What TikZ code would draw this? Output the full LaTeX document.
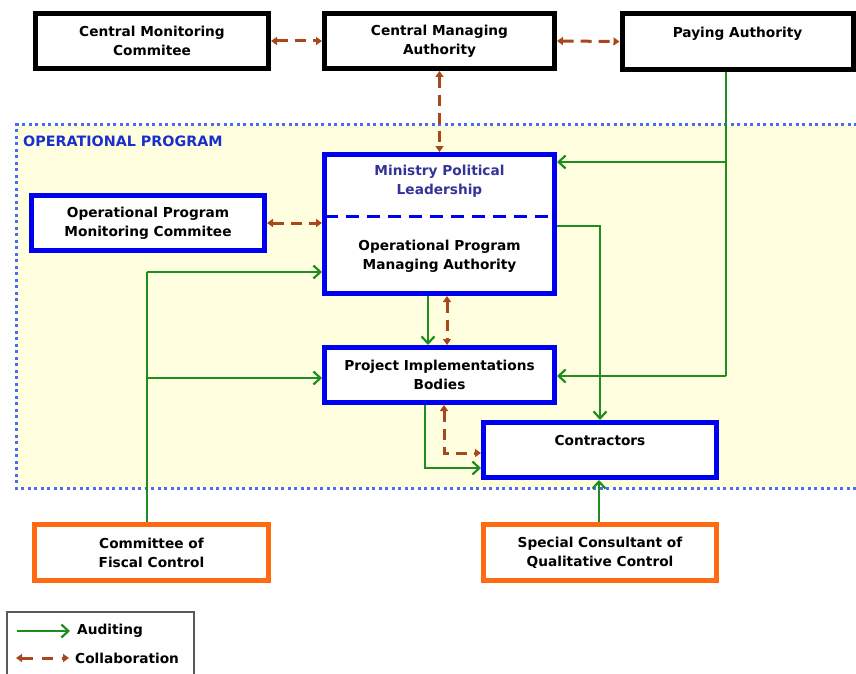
\documentclass[tikz,border=0pt]{standalone}
\usepackage{fontspec}
\setmainfont{DejaVu Sans}
\usetikzlibrary{arrows.meta}
\definecolor{audgreen}{HTML}{1E8C1E}
\definecolor{colbrown}{HTML}{A8461C}
\definecolor{boxblue}{HTML}{0000F0}
\definecolor{boxorange}{HTML}{FF6A10}
\definecolor{dotblue}{HTML}{4A6CF0}
\definecolor{opfill}{HTML}{FFFFE0}
\definecolor{optext}{HTML}{1A2ECC}
\definecolor{mintext}{HTML}{333399}
\tikzset{
  basebox/.style={draw, line width=5pt, fill=white, align=center,
    font=\fontsize{13.7}{19}\selectfont\bfseries, inner sep=0pt},
  blackbox/.style={basebox, draw=black},
  bluebox/.style={basebox, draw=boxblue},
  orangebox/.style={basebox, draw=boxorange},
  txt/.style={font=\fontsize{13.7}{19}\selectfont\bfseries, align=center, inner sep=0pt},
  audit/.style={draw=audgreen, line width=2pt,
    -{Straight Barb[length=7pt,width=13pt,line width=2.2pt]}},
  collab/.style={draw=colbrown, line width=3pt, dash pattern=on 11pt off 7pt,
    {Triangle[length=6pt,width=8pt]}-{Triangle[length=6pt,width=8pt]}},
  plain/.style={draw=audgreen, line width=2pt},
}
\begin{document}
\begin{tikzpicture}[x=1pt,y=-1pt]
\useasboundingbox (0,0) rectangle (856,674);
% operational program region
\path[fill=opfill] (16,125) rectangle (870,488);
\draw[dotblue, line width=3pt, dash pattern=on 3pt off 3.5pt] (870,125) -- (16,125) -- (16,488) -- (870,488);
\node[anchor=west, text=optext, txt, font=\fontsize{14.3}{19}\selectfont\bfseries] (optitle) at (23,141) {OPERATIONAL PROGRAM};

% top boxes
\node[blackbox, minimum width=233pt, minimum height=55pt] (cmc) at (152,41) {Central Monitoring\\Commitee};
\node[blackbox, minimum width=230pt, minimum height=55pt] (cma) at (439.5,41) {Central Managing\\Authority};
\node[blackbox, minimum width=231pt, minimum height=56pt] (pa) at (737.5,41.5) {Paying Authority\\\mbox{}};

% inner boxes
\node[bluebox, minimum width=233pt, minimum height=55pt] (opmc) at (148,223) {Operational Program\\Monitoring Commitee};
\node[bluebox, minimum width=230pt, minimum height=139pt] (min) at (439.5,224) {};
\node[txt, text=mintext] (minT) at (439.5,181.5) {Ministry Political\\Leadership};
\node[txt] (opmaT) at (439.5,256.5) {Operational Program\\Managing Authority};
\coordinate (dashL) at (324.5,216);
\coordinate (dashR) at (554.5,216);
\draw[boxblue, line width=3pt, dash pattern=on 13pt off 8pt] (dashL) -- (dashR);
\node[bluebox, minimum width=230pt, minimum height=55pt] (pib) at (439.5,375) {Project Implementations\\Bodies};
\node[bluebox, minimum width=233pt, minimum height=55pt] (con) at (600,450) {Contractors\\\mbox{}};

% bottom boxes
\node[orangebox, minimum width=234pt, minimum height=56pt] (cfc) at (151.5,552.5) {Committee of\\Fiscal Control};
\node[orangebox, minimum width=233pt, minimum height=56pt] (scq) at (600,552.5) {Special Consultant of\\Qualitative Control};

% helper coordinates
\coordinate (paX) at (726,0);
\coordinate (jPA1) at (726,162);
\coordinate (jPA2) at (726,376);
\coordinate (minOut) at (557,226);
\coordinate (bendC) at (600,226);
\coordinate (cfcX) at (147,0);
\coordinate (jF1) at (147,272);
\coordinate (jF2) at (147,378);
\coordinate (pibG) at (425,0);
\coordinate (bendG) at (425,468);
\coordinate (pibB) at (444,0);
\coordinate (bendB) at (444,453);

% collaboration
\draw[collab] (cmc.east) -- (cma.west);
\draw[collab] (cma.east) -- (pa.west);
\draw[collab] (cma.south) -- (min.north);
\draw[collab] (opmc.east) -- (min.west |- opmc.east);
\draw[collab] (min.south -| 447,0) -- (pib.north -| 447,0);
\draw[collab] (pib.south -| pibB) -- (bendB) -- (con.west |- bendB);

% auditing
\draw[plain] (pa.south -| paX) -- (jPA2);
\draw[audit] (jPA1) -- (min.east |- jPA1);
\draw[audit] (jPA2) -- (pib.east |- jPA2);
\draw[audit] (minOut) -- (bendC) -- (con.north -| bendC);
\draw[audit] (min.south -| 428,0) -- (pib.north -| 428,0);
\draw[plain] (cfc.north -| cfcX) -- (jF1);
\draw[audit] (jF1) -- (min.west |- jF1);
\draw[audit] (jF2) -- (pib.west |- jF2);
\draw[audit] (pib.south -| pibG) -- (bendG) -- (con.west |- bendG);
\draw[audit] (scq.north -| 599,0) -- (con.south -| 599,0);

% legend
\node[draw=black!65, line width=1.2pt, minimum width=187pt, minimum height=70pt, inner sep=0pt] (legend) at (100.5,647) {};
\coordinate (la1) at (17,631);
\coordinate (la2) at (70,631);
\coordinate (lb1) at (16,658);
\coordinate (lb2) at (69,658);
\draw[audit] (la1) -- (la2);
\draw[collab, dash pattern=on 11pt off 9pt] (lb1) -- (lb2);
\node[anchor=west, txt] (lauditing) at (77,631) {Auditing};
\node[anchor=west, txt] (lcollab) at (75,658) {Collaboration};
\end{tikzpicture}
\end{document}
